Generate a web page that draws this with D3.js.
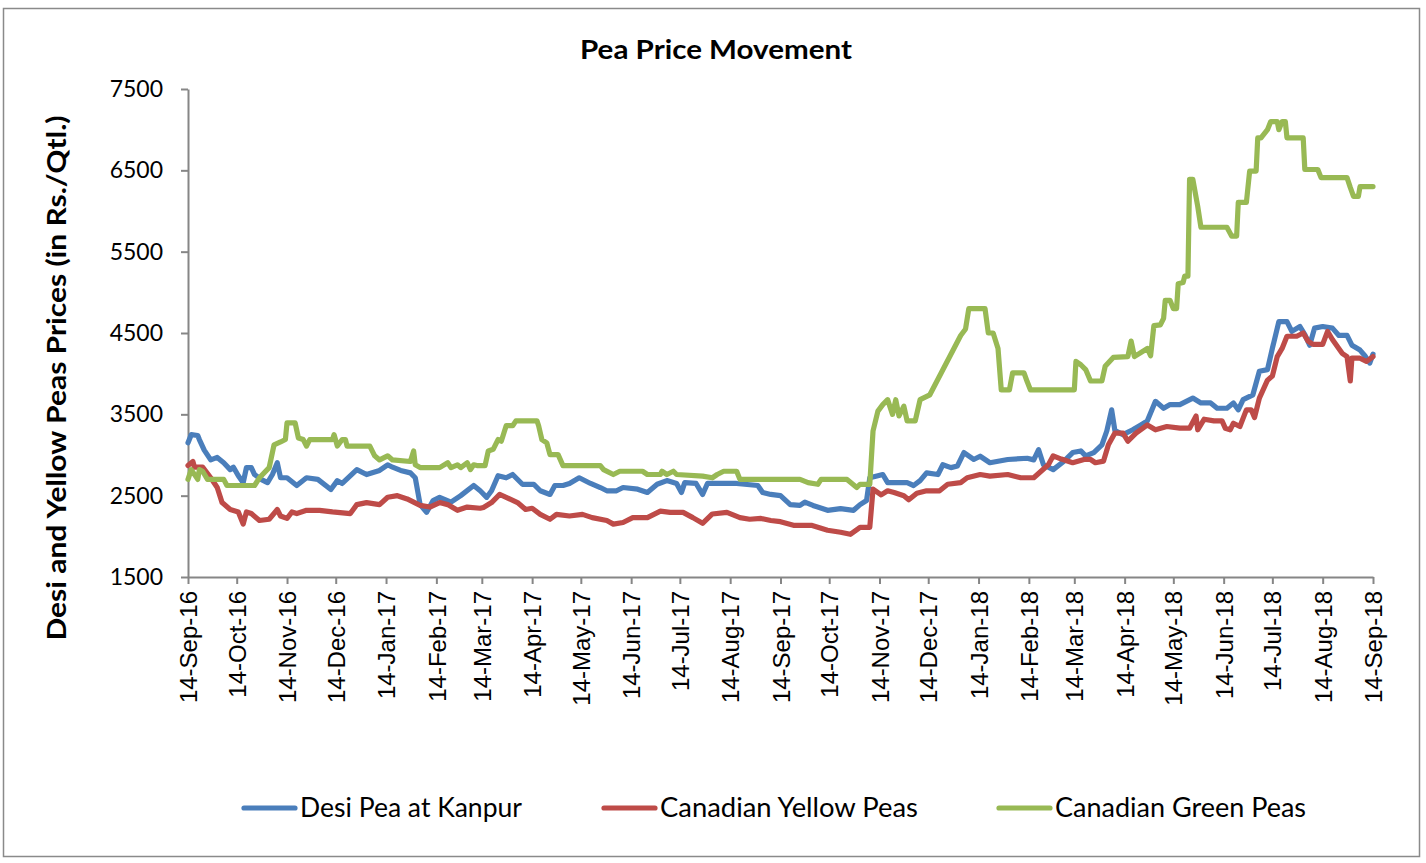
<!DOCTYPE html>
<html>
<head>
<meta charset="utf-8">
<script src="https://cdn.jsdelivr.net/npm/d3@7"></script>
<style>
  body { margin: 0; background: #fff; }
  svg { display: block; }
</style>
</head>
<body>
<div id="chart"></div>
<script>
// prices in Rs./Qtl.
const desiPea = [
  ["2016-09-14",3150],["2016-09-16",3250],["2016-09-20",3240],["2016-09-21",3190],["2016-09-24",3060],["2016-09-28",2940],
  ["2016-10-02",2970],["2016-10-06",2905],["2016-10-10",2820],["2016-10-12",2850],["2016-10-15",2745],["2016-10-18",2660],
  ["2016-10-20",2845],["2016-10-23",2845],["2016-10-25",2760],["2016-10-29",2700],["2016-11-02",2660],["2016-11-05",2760],
  ["2016-11-08",2905],["2016-11-10",2720],["2016-11-14",2720],["2016-11-20",2625],["2016-11-26",2720],["2016-12-03",2700],
  ["2016-12-11",2575],["2016-12-15",2685],["2016-12-18",2650],["2016-12-27",2820],["2017-01-02",2760],["2017-01-10",2810],
  ["2017-01-15",2880],["2017-01-18",2850],["2017-01-23",2810],["2017-01-29",2780],["2017-02-01",2720],["2017-02-04",2390],
  ["2017-02-08",2295],["2017-02-12",2440],["2017-02-16",2480],["2017-02-23",2420],["2017-03-01",2500],["2017-03-09",2625],
  ["2017-03-13",2560],["2017-03-17",2480],["2017-03-20",2560],["2017-03-24",2745],["2017-03-29",2720],["2017-04-02",2760],
  ["2017-04-08",2640],["2017-04-15",2640],["2017-04-19",2560],["2017-04-25",2515],["2017-04-28",2625],["2017-05-03",2625],
  ["2017-05-07",2650],["2017-05-13",2720],["2017-05-20",2650],["2017-05-26",2600],["2017-05-30",2560],["2017-06-05",2560],
  ["2017-06-09",2600],["2017-06-18",2580],["2017-06-24",2540],["2017-06-30",2640],["2017-07-06",2685],["2017-07-12",2650],
  ["2017-07-15",2540],["2017-07-17",2660],["2017-07-24",2650],["2017-07-28",2515],["2017-07-31",2650],["2017-08-10",2650],
  ["2017-08-18",2650],["2017-08-31",2625],["2017-09-03",2540],["2017-09-08",2515],["2017-09-14",2500],["2017-09-20",2390],
  ["2017-09-26",2380],["2017-09-29",2420],["2017-10-04",2380],["2017-10-13",2320],["2017-10-21",2340],["2017-10-29",2320],
  ["2017-11-02",2390],["2017-11-06",2440],["2017-11-08",2720],["2017-11-13",2745],["2017-11-16",2760],["2017-11-19",2660],
  ["2017-12-01",2660],["2017-12-05",2625],["2017-12-09",2685],["2017-12-13",2780],["2017-12-20",2760],["2017-12-23",2880],
  ["2017-12-28",2845],["2018-01-01",2865],["2018-01-05",3030],["2018-01-11",2945],["2018-01-15",2985],["2018-01-21",2905],
  ["2018-02-01",2945],["2018-02-13",2960],["2018-02-17",2940],["2018-02-20",3065],["2018-02-23",2880],["2018-03-01",2820],
  ["2018-03-08",2930],["2018-03-13",3030],["2018-03-18",3050],["2018-03-21",2990],["2018-03-26",3030],["2018-03-31",3125],
  ["2018-04-03",3295],["2018-04-06",3555],["2018-04-08",3300],["2018-04-13",3250],["2018-04-19",3310],["2018-04-24",3370],
  ["2018-04-28",3420],["2018-05-03",3660],["2018-05-08",3575],["2018-05-12",3620],["2018-05-18",3620],["2018-05-26",3700],
  ["2018-05-31",3640],["2018-06-06",3640],["2018-06-10",3575],["2018-06-16",3575],["2018-06-20",3640],["2018-06-23",3555],
  ["2018-06-26",3680],["2018-07-02",3740],["2018-07-06",4030],["2018-07-11",4050],["2018-07-14",4310],["2018-07-18",4640],
  ["2018-07-23",4640],["2018-07-26",4520],["2018-07-31",4580],["2018-08-03",4480],["2018-08-06",4350],["2018-08-09",4560],
  ["2018-08-14",4580],["2018-08-20",4560],["2018-08-24",4470],["2018-08-29",4470],["2018-09-01",4350],["2018-09-06",4290],
  ["2018-09-09",4220],["2018-09-12",4130],["2018-09-14",4240]
]

const yellowPeas = [
  ["2016-09-14",2870],["2016-09-17",2920],["2016-09-18",2850],["2016-09-23",2850],["2016-09-28",2720],["2016-10-02",2600],
  ["2016-10-05",2415],["2016-10-10",2330],["2016-10-15",2300],["2016-10-18",2150],["2016-10-20",2300],["2016-10-23",2280],
  ["2016-10-28",2195],["2016-11-03",2210],["2016-11-08",2330],["2016-11-10",2250],["2016-11-14",2220],["2016-11-17",2300],
  ["2016-11-20",2280],["2016-11-26",2320],["2016-12-04",2320],["2016-12-12",2300],["2016-12-23",2280],["2016-12-27",2390],
  ["2017-01-02",2415],["2017-01-10",2390],["2017-01-15",2480],["2017-01-21",2500],["2017-01-27",2460],["2017-02-04",2380],
  ["2017-02-10",2360],["2017-02-16",2415],["2017-02-21",2390],["2017-02-27",2320],["2017-03-05",2360],["2017-03-13",2345],
  ["2017-03-15",2355],["2017-03-20",2415],["2017-03-25",2515],["2017-03-29",2480],["2017-04-05",2415],["2017-04-10",2330],
  ["2017-04-14",2345],["2017-04-19",2270],["2017-04-25",2210],["2017-04-29",2270],["2017-05-07",2250],["2017-05-15",2270],
  ["2017-05-21",2230],["2017-05-30",2195],["2017-06-03",2150],["2017-06-09",2170],["2017-06-15",2230],["2017-06-24",2230],
  ["2017-07-02",2310],["2017-07-08",2295],["2017-07-16",2295],["2017-07-22",2230],["2017-07-28",2160],["2017-08-03",2275],
  ["2017-08-12",2295],["2017-08-20",2230],["2017-08-26",2210],["2017-09-02",2220],["2017-09-08",2195],["2017-09-14",2180],
  ["2017-09-22",2135],["2017-10-03",2135],["2017-10-13",2075],["2017-10-21",2050],["2017-10-27",2025],["2017-11-02",2110],
  ["2017-11-08",2110],["2017-11-10",2580],["2017-11-15",2510],["2017-11-19",2560],["2017-11-23",2540],["2017-11-29",2500],
  ["2017-12-02",2450],["2017-12-07",2530],["2017-12-13",2560],["2017-12-21",2560],["2017-12-26",2640],["2018-01-03",2660],
  ["2018-01-07",2720],["2018-01-15",2760],["2018-01-21",2740],["2018-02-01",2760],["2018-02-09",2720],["2018-02-17",2720],
  ["2018-02-26",2880],["2018-03-01",2990],["2018-03-06",2950],["2018-03-13",2905],["2018-03-20",2945],["2018-03-24",2945],
  ["2018-03-27",2905],["2018-04-01",2925],["2018-04-04",3125],["2018-04-08",3270],["2018-04-13",3270],["2018-04-16",3170],
  ["2018-04-21",3270],["2018-04-28",3370],["2018-05-03",3310],["2018-05-10",3350],["2018-05-18",3330],["2018-05-24",3330],
  ["2018-05-28",3480],["2018-05-29",3310],["2018-06-02",3440],["2018-06-08",3420],["2018-06-13",3420],["2018-06-15",3330],
  ["2018-06-18",3310],["2018-06-20",3390],["2018-06-24",3350],["2018-06-28",3555],["2018-07-01",3555],["2018-07-03",3460],
  ["2018-07-06",3700],["2018-07-11",3920],["2018-07-14",3970],["2018-07-17",4210],["2018-07-20",4310],["2018-07-23",4460],
  ["2018-07-29",4460],["2018-08-02",4500],["2018-08-05",4400],["2018-08-08",4360],["2018-08-14",4360],["2018-08-17",4520],
  ["2018-08-20",4420],["2018-08-26",4250],["2018-08-29",4210],["2018-08-31",3910],["2018-09-01",4190],["2018-09-06",4190],
  ["2018-09-10",4150],["2018-09-14",4210]
]

const greenPeas = [
  ["2016-09-14",2700],["2016-09-16",2820],["2016-09-20",2700],["2016-09-21",2820],["2016-09-23",2800],["2016-09-26",2700],
  ["2016-10-06",2700],["2016-10-08",2625],["2016-10-25",2625],["2016-10-28",2720],["2016-11-03",2845],["2016-11-06",3125],
  ["2016-11-10",3160],["2016-11-13",3190],["2016-11-14",3395],["2016-11-19",3395],["2016-11-21",3210],["2016-11-24",3190],
  ["2016-11-26",3110],["2016-11-28",3190],["2016-12-12",3190],["2016-12-13",3250],["2016-12-15",3110],["2016-12-18",3190],
  ["2016-12-20",3190],["2016-12-21",3110],["2017-01-04",3110],["2017-01-07",2990],["2017-01-10",2940],["2017-01-15",2990],
  ["2017-01-18",2940],["2017-01-29",2920],["2017-01-31",3050],["2017-02-01",2880],["2017-02-04",2845],["2017-02-16",2845],
  ["2017-02-21",2905],["2017-02-23",2845],["2017-02-27",2880],["2017-03-01",2845],["2017-03-05",2905],["2017-03-07",2820],
  ["2017-03-09",2880],["2017-03-11",2870],["2017-03-16",2870],["2017-03-18",3050],["2017-03-21",3070],["2017-03-24",3190],
  ["2017-03-26",3170],["2017-03-29",3360],["2017-04-02",3360],["2017-04-04",3420],["2017-04-17",3420],["2017-04-18",3360],
  ["2017-04-20",3190],["2017-04-23",3150],["2017-04-25",3005],["2017-04-30",3005],["2017-05-03",2870],["2017-05-26",2870],
  ["2017-05-28",2820],["2017-06-03",2760],["2017-06-07",2800],["2017-06-21",2800],["2017-06-24",2760],["2017-07-02",2760],
  ["2017-07-03",2800],["2017-07-06",2760],["2017-07-10",2800],["2017-07-12",2760],["2017-07-28",2740],["2017-08-03",2720],
  ["2017-08-06",2760],["2017-08-10",2800],["2017-08-18",2800],["2017-08-20",2700],["2017-09-26",2700],["2017-10-01",2660],
  ["2017-10-07",2640],["2017-10-09",2700],["2017-10-25",2700],["2017-10-31",2600],["2017-11-02",2640],["2017-11-08",2640],
  ["2017-11-10",3295],["2017-11-13",3540],["2017-11-16",3620],["2017-11-19",3680],["2017-11-22",3500],["2017-11-24",3680],
  ["2017-11-26",3480],["2017-11-29",3600],["2017-12-01",3420],["2017-12-06",3420],["2017-12-09",3680],["2017-12-15",3740],
  ["2018-01-03",4470],["2018-01-06",4550],["2018-01-08",4800],["2018-01-18",4800],["2018-01-20",4500],["2018-01-23",4500],
  ["2018-01-26",4310],["2018-01-28",3800],["2018-02-02",3800],["2018-02-04",4010],["2018-02-11",4010],["2018-02-13",3900],
  ["2018-02-15",3800],["2018-03-14",3800],["2018-03-15",4150],["2018-03-18",4110],["2018-03-21",4050],["2018-03-24",3910],
  ["2018-03-31",3910],["2018-04-02",4090],["2018-04-07",4200],["2018-04-16",4210],["2018-04-18",4400],["2018-04-20",4210],
  ["2018-04-28",4310],["2018-04-30",4220],["2018-05-02",4590],["2018-05-06",4600],["2018-05-08",4680],["2018-05-09",4900],
  ["2018-05-12",4900],["2018-05-14",4800],["2018-05-16",4800],["2018-05-17",5105],["2018-05-20",5120],["2018-05-21",5200],
  ["2018-05-23",5200],["2018-05-24",6390],["2018-05-26",6390],["2018-05-29",6060],["2018-05-31",5800],["2018-06-16",5800],
  ["2018-06-19",5690],["2018-06-22",5690],["2018-06-23",6105],["2018-06-28",6105],["2018-06-30",6490],["2018-07-04",6490],
  ["2018-07-05",6900],["2018-07-07",6900],["2018-07-11",7000],["2018-07-13",7100],["2018-07-17",7100],["2018-07-18",7000],
  ["2018-07-20",7100],["2018-07-22",7100],["2018-07-23",6900],["2018-08-02",6900],["2018-08-03",6510],["2018-08-11",6510],
  ["2018-08-13",6410],["2018-08-29",6410],["2018-08-31",6290],["2018-09-02",6180],["2018-09-05",6180],["2018-09-06",6300],
  ["2018-09-14",6300]
]

const seriesNames = ["Desi Pea at Kanpur", "Canadian Yellow Peas", "Canadian Green Peas"]
const seriesColors = ["#4a7ebb", "#be4b48", "#98b954"]
const yTicks = [1500, 2500, 3500, 4500, 5500, 6500, 7500]

const W = 1426, H = 863
const margin = { top: 89, left: 188, right: 53, bottom: 283 }
const parseDate = d3.utcParse("%Y-%m-%d")
const fmt = d3.utcFormat("%d-%b-%y")

let svg = d3.select("#chart").append("svg")
    .attr("width", W)
    .attr("height", H)

// outer chart border
svg.append("rect")
    .attr("x", 3.5).attr("y", 8.5)
    .attr("width", 1416).attr("height", 848)
    .style("fill", "#fff")
    .style("stroke", "#8a8a8a")
    .style("stroke-width", 1.5)

let x = d3.scaleUtc()
    .domain([parseDate("2016-09-14"), parseDate("2018-09-14")])
    .range([margin.left, W - margin.right])

let y = d3.scaleLinear()
    .domain([1500, 7500])
    .range([H - margin.bottom - 3, margin.top])

// 14th of every month
let xTicks = d3.range(0, 25).map(i => d3.utcMonth.offset(parseDate("2016-09-14"), i))

let xAxis = svg.append("g")
    .attr("transform", "translate(0," + y(1500) + ")")
    .call(d3.axisBottom(x).tickValues(xTicks).tickFormat(fmt).tickSize(7).tickSizeOuter(0))

xAxis.selectAll("text")
    .attr("transform", "rotate(-90)")
    .attr("x", -14)
    .attr("y", 0)
    .attr("dy", "0.36em")
    .style("text-anchor", "end")
    .style("font-family", "'Liberation Sans', Arial, sans-serif")
    .style("font-size", "24px")
    .style("fill", "#000")

let yAxis = svg.append("g")
    .attr("transform", "translate(" + x.range()[0] + ",0)")
    .call(d3.axisLeft(y).tickValues(yTicks).tickFormat(d3.format("d")).tickSize(7).tickSizeOuter(0))

yAxis.selectAll("text")
    .attr("x", -25)
    .style("font-family", "Lato, 'Open Sans', sans-serif")
    .style("font-size", "23px")
    .style("fill", "#000")

svg.selectAll(".domain, .tick line")
    .style("stroke", "#868686")
    .style("stroke-width", 2)

// lines
let line = d3.line()
    .x(d => x(parseDate(d[0])))
    .y(d => y(d[1]))

let allSeries = [desiPea, yellowPeas, greenPeas]

svg.selectAll(".series")
    .data(allSeries)
    .enter()
    .append("path")
    .attr("class", "series")
    .attr("d", line)
    .style("fill", "none")
    .style("stroke", (d, i) => seriesColors[i])
    .style("stroke-width", 5.2)
    .style("stroke-linejoin", "round")
    .style("stroke-linecap", "round")

// title
svg.append("text")
    .attr("x", 716).attr("y", 59)
    .attr("text-anchor", "middle")
    .attr("textLength", 272)
    .attr("lengthAdjust", "spacingAndGlyphs")
    .style("font-family", "Lato, 'Open Sans', sans-serif")
    .style("font-weight", "bold")
    .style("font-size", "26px")
    .text("Pea Price Movement")

// y axis title
svg.append("text")
    .attr("transform", "translate(66,378) rotate(-90)")
    .attr("text-anchor", "middle")
    .attr("textLength", 525)
    .attr("lengthAdjust", "spacingAndGlyphs")
    .style("font-family", "Lato, 'Open Sans', sans-serif")
    .style("font-weight", "bold")
    .style("font-size", "27px")
    .text("Desi and Yellow Peas Prices (in Rs./Qtl.)")

// legend
const legendX = [244, 604, 999]
const legendW = [222, 258, 251]
let legend = svg.selectAll(".legend")
    .data(seriesNames)
    .enter()
    .append("g")
    .attr("class", "legend")
    .attr("transform", (d, i) => "translate(" + legendX[i] + ",808)")

legend.append("line")
    .attr("x1", 0).attr("x2", 51)
    .style("stroke", (d, i) => seriesColors[i])
    .style("stroke-width", 5.2)
    .style("stroke-linecap", "round")

legend.append("text")
    .attr("x", 56)
    .attr("dy", "0.35em")
    .attr("textLength", (d, i) => legendW[i])
    .attr("lengthAdjust", "spacingAndGlyphs")
    .style("font-family", "Lato, 'Open Sans', sans-serif")
    .style("font-size", "27px")
    .text(d => d)
</script>
</body>
</html>
